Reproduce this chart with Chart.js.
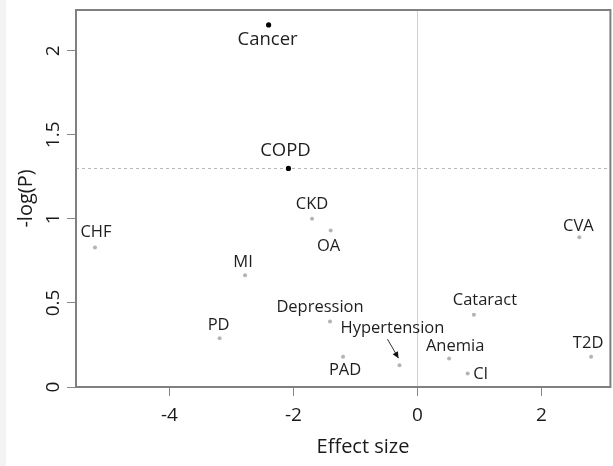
<!DOCTYPE html>
<html><head><meta charset="utf-8">
<script src="https://cdn.jsdelivr.net/npm/chart.js@4"></script>
<style>html,body{margin:0;padding:0;background:#fff;}#wrap{width:613px;height:466px;position:relative;}</style>
</head><body><div id="wrap"><canvas id="c" width="613" height="466"></canvas></div>
<script>
// ---- data ----
const conditions = ['Cancer','COPD','CKD','OA','CHF','MI','PD','Depression','PAD','Hypertension','Anemia','CI','Cataract','CVA','T2D'];
const effectSize = [-2.40,-2.08,-1.70,-1.40,-5.20,-2.78,-3.19,-1.41,-1.20,-0.29,0.51,0.81,0.91,2.61,2.80];
const negLogP    = [2.153,1.30,1.00,0.93,0.83,0.665,0.29,0.39,0.18,0.13,0.17,0.08,0.43,0.89,0.18];
const xTicks = [-4,-2,0,2];
const yTicks = [0,0.5,1,1.5,2];
const yTickLabels = ['0','0.5','1','1.5','2'];
const threshold = 1.3;
const xTitle = 'Effect size';
const yTitle = '-log(P)';

// ---- label layout (pixel offsets from each point) ----
const labelOffset = {
  'Cancer':[-1,15],'COPD':[-3,-18],'CKD':[0,-15],'OA':[-2,16],'CHF':[1,-15],'MI':[-2,-13],
  'PD':[-1,-13],'Depression':[-10,-14],'PAD':[2,14],'Hypertension':[-7,-37],'Anemia':[6,-12],
  'CI':[13,1],'Cataract':[11,-14],'CVA':[-1,-11],'T2D':[-3,-13]
};
const FONT = "'Open Sans', sans-serif";

const decor = {
  id:'decor',
  beforeDraw(chart){
    const c = chart.ctx;
    c.save();
    c.fillStyle = '#f3f3f3';
    c.fillRect(0,0,6,chart.height);
    c.restore();
  },
  beforeDatasetsDraw(chart){
    const c = chart.ctx, a = chart.chartArea, xs = chart.scales.x, ys = chart.scales.y;
    c.save();
    c.strokeStyle = '#d0d0d0'; c.lineWidth = 1;
    const x0 = Math.round(xs.getPixelForValue(0)) + 0.5;
    c.beginPath(); c.moveTo(x0, a.top); c.lineTo(x0, a.bottom); c.stroke();
    c.strokeStyle = '#b8b8b8'; c.setLineDash([3,3]);
    const yt = Math.round(ys.getPixelForValue(threshold)) + 0.5;
    c.beginPath(); c.moveTo(a.left, yt); c.lineTo(a.right, yt); c.stroke();
    c.restore();
  },
  afterDatasetsDraw(chart){
    const c = chart.ctx, meta = chart.getDatasetMeta(0), ys = chart.scales.y, a = chart.chartArea;
    c.save();
    c.textAlign = 'center'; c.textBaseline = 'middle';
    conditions.forEach((name,i)=>{
      const p = meta.data[i];
      const off = labelOffset[name];
      const big = negLogP[i] >= threshold;
      c.font = (big ? '500 18.5px ' : '500 16.5px ') + FONT;
      c.fillStyle = '#1e1e1e';
      c.fillText(name, p.x + off[0], p.y + off[1]);
      if (name === 'Hypertension') {
        const sx = p.x - 12, sy = p.y - 26, ex = p.x - 1, ey = p.y - 7;
        c.strokeStyle = '#333'; c.lineWidth = 1;
        c.beginPath(); c.moveTo(sx, sy); c.lineTo(ex, ey); c.stroke();
        const ang = Math.atan2(ey - sy, ex - sx), L = 7, w = 0.45;
        c.fillStyle = '#111';
        c.beginPath(); c.moveTo(ex, ey);
        c.lineTo(ex - L*Math.cos(ang - w), ey - L*Math.sin(ang - w));
        c.lineTo(ex - L*Math.cos(ang + w), ey - L*Math.sin(ang + w));
        c.closePath(); c.fill();
      }
    });
    // y tick labels (rotated, like the reference)
    c.font = '500 19px ' + FONT; c.fillStyle = '#1a1a1a';
    yTicks.forEach((v,i)=>{
      const y = ys.getPixelForValue(v);
      c.save(); c.translate(54, y); c.rotate(-Math.PI/2);
      c.fillText(yTickLabels[i], 0, 0); c.restore();
    });
    // axis titles
    c.font = '500 20px ' + FONT; c.fillStyle = '#1a1a1a';
    c.fillText(xTitle, 363, 447);
    c.save(); c.translate(26, (a.top + a.bottom)/2); c.rotate(-Math.PI/2);
    c.fillText(yTitle, 0, 0); c.restore();
    // box
    c.strokeStyle = '#808080'; c.lineWidth = 2; c.setLineDash([]);
    c.strokeRect(a.left, a.top, a.right - a.left, a.bottom - a.top);
    c.restore();
  }
};

new Chart(document.getElementById('c'), {
  type:'scatter',
  data:{ datasets:[{
    data: effectSize.map((x,i)=>({x, y: negLogP[i]})),
    pointRadius: negLogP.map(v => v >= threshold ? 2.6 : 2),
    pointBackgroundColor: negLogP.map(v => v >= threshold ? '#000' : '#b4b4b4'),
    pointBorderWidth: 0,
    pointHoverRadius: 2
  }]},
  options:{
    responsive:false, animation:false, devicePixelRatio:1,
    layout:{ padding:{ left:0, top:10, right:1, bottom:0 } },
    plugins:{ legend:{display:false}, tooltip:{enabled:false} },
    events: [],
    scales:{
      x:{ type:'linear', min:-5.506, max:3.111,
          afterBuildTicks: s => { s.ticks = xTicks.map(v=>({value:v})); },
          afterFit: s => { s.height = 79; },
          ticks:{ font:{family:FONT, size:19, weight:'500'}, color:'#1a1a1a', padding:8 },
          grid:{ drawOnChartArea:false, tickLength:9, tickColor:'#888', tickWidth:1 },
          border:{ display:false } },
      y:{ type:'linear', min:0, max:2.242,
          afterBuildTicks: s => { s.ticks = yTicks.map(v=>({value:v})); },
          afterFit: s => { s.width = 76; },
          ticks:{ display:false },
          grid:{ drawOnChartArea:false, tickLength:9, tickColor:'#888', tickWidth:1 },
          border:{ display:false } }
    }
  },
  plugins:[decor]
});
</script></body></html>
